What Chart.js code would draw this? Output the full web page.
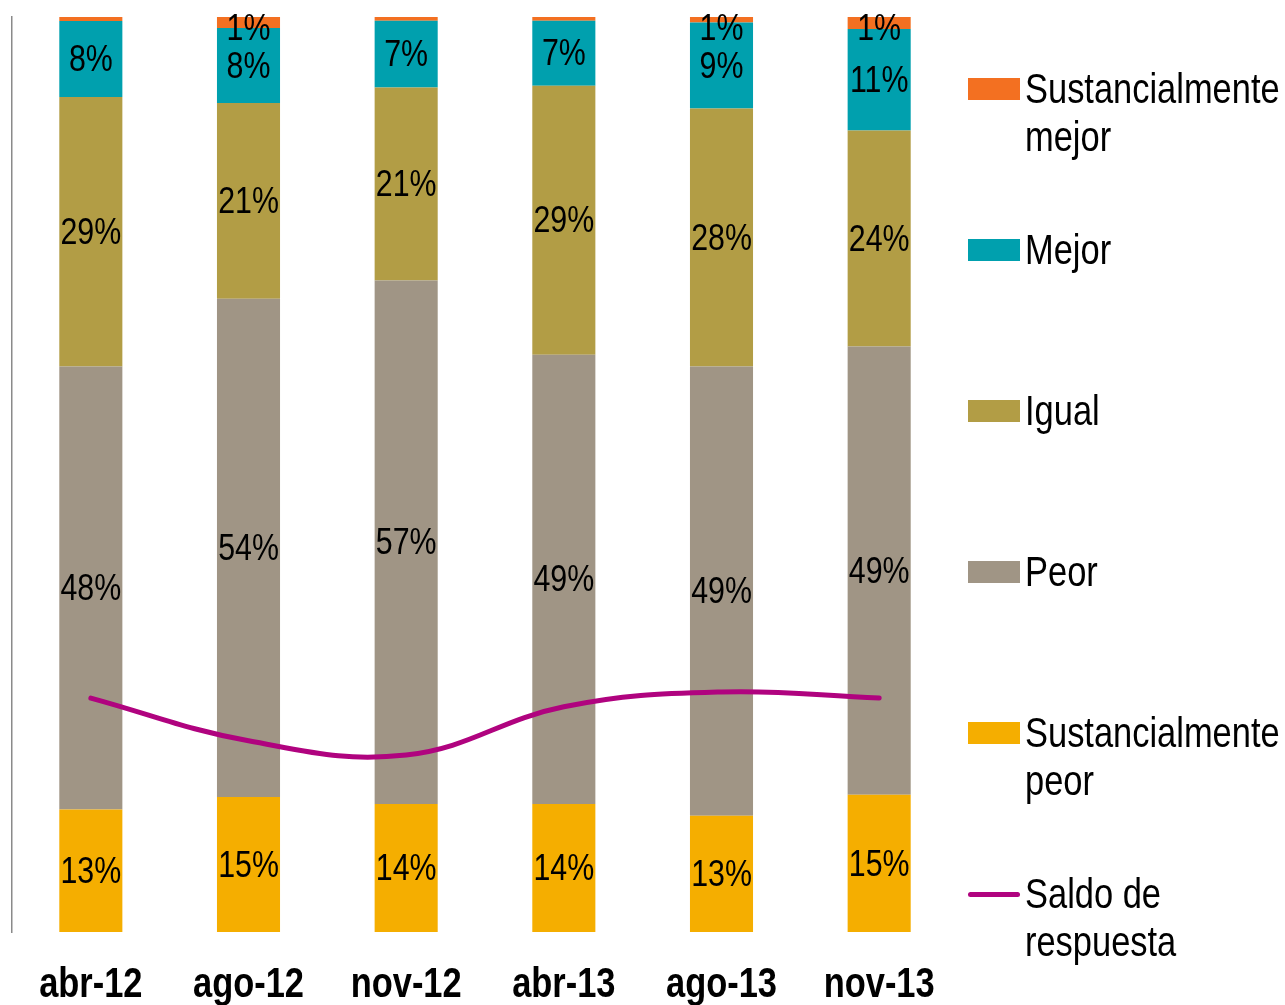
<!DOCTYPE html>
<html>
<head>
<meta charset="utf-8">
<script src="https://cdn.jsdelivr.net/npm/chart.js@4.4.1/dist/chart.umd.min.js"></script>
<style>
  html, body { margin: 0; padding: 0; background: #ffffff; }
  #wrap { position: relative; width: 1285px; height: 1005px; overflow: hidden; }
  #chart { position: absolute; left: 0; top: 0; }
  #legend { position: absolute; left: 0; top: 0; width: 1285px; height: 1005px; pointer-events: none; }
  .lg-item { position: absolute; left: 968px; }
  .lg-box { position: absolute; left: 0; width: 52px; height: 22px; }
  .lg-line { position: absolute; left: 0; width: 52px; height: 5px; border-radius: 3px; }
  .lg-text { position: absolute; left: 57px; font-family: "Liberation Sans", Arial, sans-serif; font-size: 42px; line-height: 48px; color: #000; white-space: pre; transform: scaleX(0.82); transform-origin: 0 0; }
</style>
</head>
<body>
<div id="wrap">
  <canvas id="chart" width="1285" height="1005"></canvas>
  <div id="legend"></div>
</div>
<script>
// ---- data ----
const categories = ["abr-12", "ago-12", "nov-12", "abr-13", "ago-13", "nov-13"];
const sustPeor   = [13.4, 14.75, 14.0, 14.0, 12.7, 15.0];
const peor       = [48.4, 54.45, 57.2, 49.1, 49.1, 49.0];
const igual      = [29.45, 21.4, 21.1, 29.4, 28.2, 23.6];
const mejor      = [8.3, 8.2, 7.3, 7.1, 9.4, 11.1];
const sustMejor  = [0.45, 1.2, 0.4, 0.4, 0.6, 1.3];
const saldo      = [-53.3, -61.1, -63.7, -54.9, -52.2, -53.3];
const legendText = {
  "Sustancialmente mejor": "Sustancialmente\nmejor",
  "Sustancialmente peor": "Sustancialmente\npeor",
  "Saldo de respuesta": "Saldo de\nrespuesta"
};

const FONT = '"Liberation Sans", Arial, sans-serif';
const SQUEEZE = 0.82;

function narrowText(ctx, text, x, y) {
  ctx.save();
  ctx.translate(x, y);
  ctx.scale(SQUEEZE, 1);
  ctx.fillText(text, 0, 0);
  ctx.restore();
}

const narrowLabels = {
  id: 'narrowLabels',
  afterDatasetsDraw(chart) {
    const ctx = chart.ctx;
    const top = chart.chartArea.top;
    ctx.save();
    // values inside the bar segments
    ctx.font = '37px ' + FONT;
    ctx.fillStyle = '#000';
    ctx.textAlign = 'center';
    ctx.textBaseline = 'middle';
    chart.data.datasets.forEach((ds, i) => {
      if (ds.type !== 'bar') return;
      const meta = chart.getDatasetMeta(i);
      meta.data.forEach((el, j) => {
        const v = Math.round(ds.data[j]);
        if (v < 1) return;
        const yc = Math.max((el.y + el.base) / 2 + 2, top + 13);
        narrowText(ctx, v + '%', el.x, yc);
      });
    });
    // category labels under the x axis
    const xs = chart.scales.x;
    ctx.font = 'bold 42px ' + FONT;
    ctx.textBaseline = 'alphabetic';
    chart.data.labels.forEach((lab, i) => {
      narrowText(ctx, lab, xs.getPixelForValue(i), 997);
    });
    ctx.restore();
  }
};

const barCommon = { type: 'bar', barPercentage: 0.4, categoryPercentage: 1.0, borderWidth: 0, order: 2, yAxisID: 'y' };

const chart = new Chart(document.getElementById('chart'), {
  data: {
    labels: categories,
    datasets: [
      Object.assign({ label: 'Sustancialmente peor', data: sustPeor, backgroundColor: '#F5AE00' }, barCommon),
      Object.assign({ label: 'Peor', data: peor, backgroundColor: '#A09585' }, barCommon),
      Object.assign({ label: 'Igual', data: igual, backgroundColor: '#B29D45' }, barCommon),
      Object.assign({ label: 'Mejor', data: mejor, backgroundColor: '#00A0AE' }, barCommon),
      Object.assign({ label: 'Sustancialmente mejor', data: sustMejor, backgroundColor: '#F37021' }, barCommon),
      { type: 'line', label: 'Saldo de respuesta', data: saldo, yAxisID: 'y1', borderColor: '#B0037F',
        backgroundColor: '#B0037F', borderWidth: 5, pointRadius: 0, tension: 0.4, borderCapStyle: 'round', order: 0, fill: false }
    ]
  },
  options: {
    responsive: false,
    animation: false,
    devicePixelRatio: 1,
    layout: { padding: { left: 12, right: 327, top: 17, bottom: 73 } },
    plugins: { legend: { display: false }, tooltip: { enabled: false } },
    scales: {
      x: {
        stacked: true,
        grid: { display: false, drawTicks: false },
        border: { display: false },
        ticks: { display: false }
      },
      y: {
        stacked: true, min: 0, max: 100,
        grid: { display: false, drawTicks: false },
        border: { display: true, color: '#8A8A8A', width: 1.5 },
        ticks: { display: false }
      },
      y1: { display: false, min: -96, max: 71, position: 'right' }
    }
  },
  plugins: [narrowLabels]
});

// ---- HTML legend built from the chart's datasets ----
(function buildLegend() {
  const lg = document.getElementById('legend');
  const ds = chart.data.datasets;
  const ordered = ds.filter(d => d.type === 'bar').slice().reverse().concat(ds.filter(d => d.type === 'line'));
  const centers = [89, 250, 411, 572, 733, 894];
  ordered.forEach((d, k) => {
    const item = document.createElement('div');
    item.className = 'lg-item';
    item.style.top = (centers[k]) + 'px';
    const mark = document.createElement('div');
    if (d.type === 'line') {
      mark.className = 'lg-line';
      mark.style.top = '-2px';
      mark.style.background = d.borderColor;
    } else {
      mark.className = 'lg-box';
      mark.style.top = '-11px';
      mark.style.background = d.backgroundColor;
    }
    const txt = document.createElement('div');
    txt.className = 'lg-text';
    txt.style.top = '-24px';
    txt.textContent = legendText[d.label] || d.label;
    item.appendChild(mark);
    item.appendChild(txt);
    lg.appendChild(item);
  });
})();
</script>
</body>
</html>
